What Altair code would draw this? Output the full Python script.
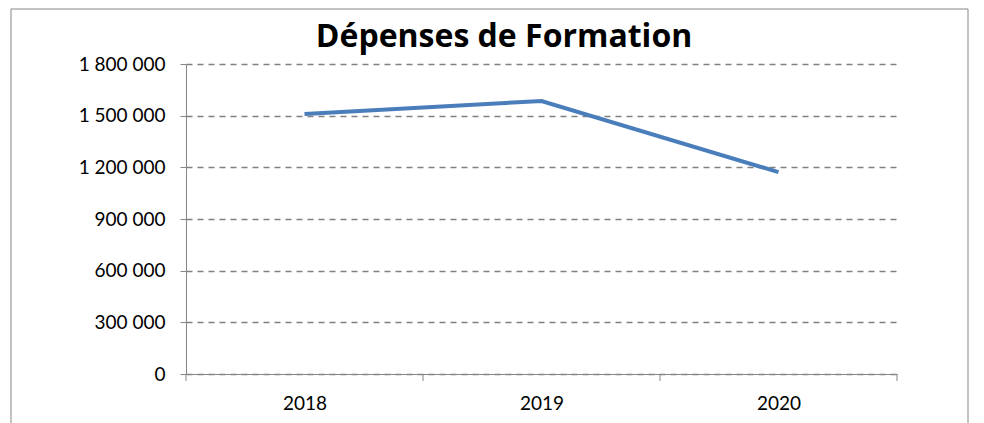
import altair as alt
import pandas as pd

years = [2018, 2019, 2020]
depenses = [1510000, 1585000, 1172000]
y_ticks = [0, 300000, 600000, 900000, 1200000, 1500000, 1800000]
title_text = "Dépenses de Formation"

df = pd.DataFrame({"annee": years, "depenses": depenses})
bounds = pd.DataFrame({"b": [years[0] - 0.5] + [y + 0.5 for y in years]})

GRAY = "#868686"
FONT = "Lato"
xscale = alt.Scale(domain=[years[0] - 0.5, years[-1] + 0.5], nice=False, zero=False)
x_axis = alt.Axis(
    title=None,
    values=years,
    format="d",
    labelOverlap=False,
    labelFlush=False,
    ticks=False,
    domainColor=GRAY,
    labelPadding=20,
    labelFontSize=19,
    labelFont=FONT,
    labelColor="#000000",
    grid=False,
)

line = alt.Chart(df).mark_line(color="#4A7EBB", strokeWidth=4).encode(
    x=alt.X("annee:Q", scale=xscale, axis=x_axis),
    y=alt.Y(
        "depenses:Q",
        scale=alt.Scale(domain=[0, 1800000], nice=False),
        axis=alt.Axis(
            title=None,
            values=y_ticks,
            labelExpr="replace(format(datum.value, ','), regexp(',', 'g'), ' ')",
            labelOverlap=False,
            labelFlush=False,
            tickSize=6,
            tickColor=GRAY,
            domainColor=GRAY,
            gridColor="#808080",
            gridDash=[6, 5],
            gridWidth=1.5,
            labelPadding=15,
            labelFontSize=19,
            labelFont=FONT,
            labelColor="#000000",
        ),
    ),
)

xticks = alt.Chart(bounds).mark_rule(color=GRAY, strokeWidth=1).encode(
    x=alt.X("b:Q", scale=xscale, axis=x_axis),
    y=alt.value(310),
    y2=alt.value(317),
)

frame = alt.Chart(pd.DataFrame({"a": [0]})).mark_rect(
    fill=None, stroke=GRAY, strokeWidth=1
).encode(
    x=alt.value(-175), x2=alt.value(782), y=alt.value(-55), y2=alt.value(420)
)

title = alt.Chart(pd.DataFrame({"t": [title_text]})).mark_text(
    font="Open Sans", fontSize=32, fontWeight="bold", color="#000000",
    align="center", baseline="alphabetic"
).encode(
    text="t:N", x=alt.value(318), y=alt.value(-17)
)

chart = alt.layer(frame, xticks, line, title).properties(
    width=711,
    height=310,
    autosize=alt.AutoSizeParams(type="none"),
    padding={"left": 178, "top": 56, "right": 79, "bottom": 49},
).configure(background="white").configure_view(stroke="transparent", strokeWidth=0)

chart.save("out.html", embed_options={"renderer": "svg", "actions": False})
